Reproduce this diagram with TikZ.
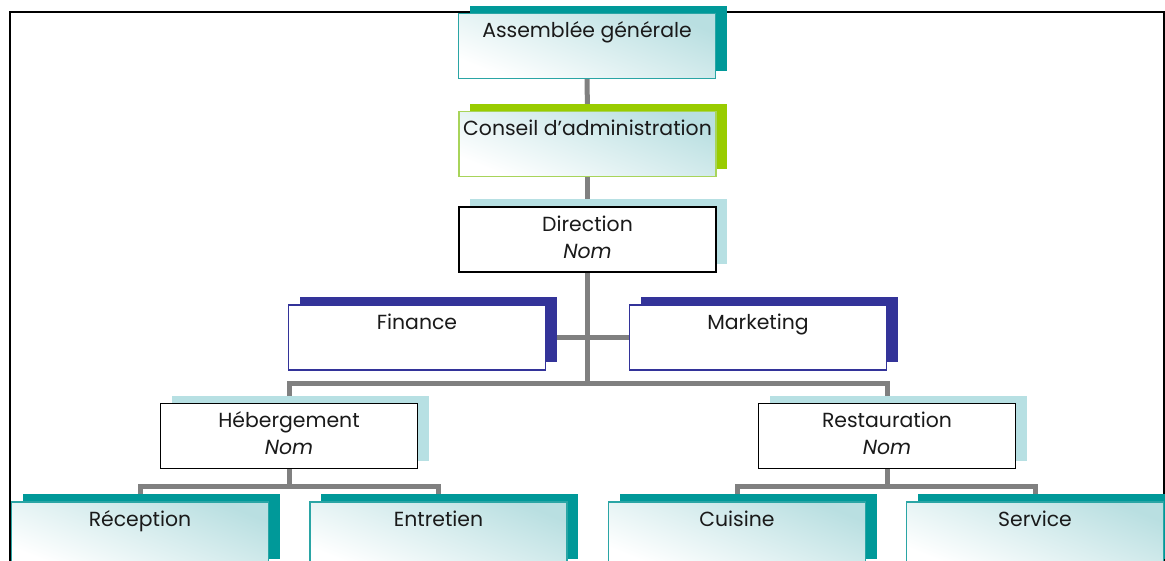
\documentclass[tikz,border=0pt]{standalone}
\usepackage{fontspec}
\setmainfont{Poppins}
\usetikzlibrary{shadows,backgrounds}
\definecolor{tealS}{HTML}{009999}
\definecolor{tealB}{HTML}{2AA5A5}
\definecolor{tealL}{HTML}{B9DFE1}
\definecolor{greenS}{HTML}{99CC00}
\definecolor{greenB}{HTML}{A8D45A}
\definecolor{blueS}{HTML}{333399}
\definecolor{lblueS}{HTML}{B7E0E3}
\definecolor{connc}{HTML}{808080}
\definecolor{txtc}{HTML}{1A1A1A}
\begin{document}
\begin{tikzpicture}[x=1pt,y=-1pt,
  box/.style={minimum width=257pt, minimum height=65pt, inner sep=0pt, outer sep=0pt},
  grad/.style={top color=tealL, bottom color=white, shading angle=-22},
  sh/.style={general shadow={shadow xshift=11pt, shadow yshift=8pt, fill=#1}},
  tealbox/.style={box, grad, draw=tealB, line width=1.3pt, sh=tealS},
  greenbox/.style={box, grad, draw=greenB, line width=1.3pt, sh=greenS},
  bluebox/.style={box, fill=white, draw=blueS, line width=1.2pt, sh=blueS},
  blackbox/.style={box, fill=white, draw=black, line width=1.6pt, sh=lblueS},
  txt/.style={anchor=base, yshift=-24pt, inner sep=0pt, align=center, font=\fontsize{20.4}{27}\selectfont, text=txtc},
  txtt/.style={txt, yshift=-27pt},
  link/.style={draw=connc, line width=5pt},
]
\useasboundingbox (0,0) rectangle (1165,560);

\node[tealbox,  label={[txt]north:Assemblée générale}] (ag) at (587,46) {};
\node[greenbox, label={[txt]north:Conseil d’administration}] (ca) at (587.5,144) {};
\node[blackbox, label={[txtt]north:Direction\\\textit{Nom}}] (dir) at (587.5,239.5) {};
\node[bluebox,  label={[txt]north:Finance}] (fin) at (417,337.5) {};
\node[bluebox,  label={[txt]north:Marketing}] (mkt) at (758,337.5) {};
\node[blackbox, label={[txtt]north:Hébergement\\\textit{Nom}}] (heb) at (289,436) {};
\node[blackbox, label={[txtt]north:Restauration\\\textit{Nom}}] (rest) at (887,436) {};
\node[tealbox,  label={[txt]north:Réception}] (rec) at (140,534.5) {};
\node[tealbox,  label={[txt]north:Entretien}] (ent) at (438.5,534.5) {};
\node[tealbox,  label={[txt]north:Cuisine}] (cui) at (737,534.5) {};
\node[tealbox,  label={[txt]north:Service}] (ser) at (1035,534.5) {};

\coordinate (bus) at (587.5,383);
\coordinate (hbus) at (289,486);
\coordinate (rbus) at (887,486);

\begin{scope}[on background layer]
\draw[line width=1.5pt] (10,12) rectangle (1164,640);
\draw[link] (ag.south) -- (ca.north);
\draw[link] (ca.south) -- (dir.north);
\draw[link] (dir.south) -- (bus);
\draw[link] (fin.east) -- (mkt.west);
\draw[link] (heb.north) |- (bus) -| (rest.north);
\draw[link] (heb.south) -- (hbus);
\draw[link] (rec.north) |- (hbus) -| (ent.north);
\draw[link] (rest.south) -- (rbus);
\draw[link] (cui.north) |- (rbus) -| (ser.north);
\end{scope}
\end{tikzpicture}
\end{document}
